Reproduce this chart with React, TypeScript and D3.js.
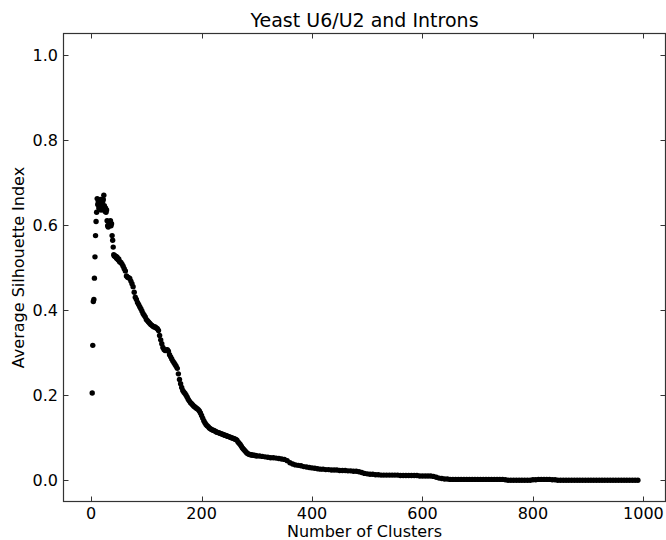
import React from 'react';
import * as d3 from 'd3';

const TITLE = 'Yeast U6/U2 and Introns';
const X_LABEL = 'Number of Clusters';
const Y_LABEL = 'Average Silhouette Index';

const xTicks = [0, 200, 400, 600, 800, 1000];
const yTicks = [0.0, 0.2, 0.4, 0.6, 0.8, 1.0];

// clusters 2..52 (one point per cluster count)
const clustersEarly = d3.range(2, 53, 1);
const silhouetteEarly = [
  0.205, 0.317, 0.420, 0.425, 0.475, 0.525, 0.575, 0.608, 0.630, 0.662,
  0.648, 0.655, 0.640, 0.650, 0.645, 0.660, 0.635, 0.650, 0.642, 0.655,
  0.660, 0.670, 0.645, 0.632, 0.640, 0.630, 0.635, 0.610, 0.598, 0.595,
  0.600, 0.602, 0.605, 0.610, 0.598, 0.603, 0.575, 0.564, 0.548, 0.530,
  0.527, 0.528, 0.525, 0.526, 0.522, 0.524, 0.520, 0.518, 0.520, 0.515, 0.513,
];

// clusters 54..300
const clustersMid = d3.range(54, 301, 2);
const silhouetteMid = [
  0.512, 0.508, 0.503, 0.497, 0.492, 0.480, 0.477, 0.476, 0.474, 0.468,
  0.462, 0.455, 0.442, 0.430, 0.425, 0.418, 0.413, 0.408, 0.403, 0.398,
  0.392, 0.388, 0.384, 0.378, 0.375, 0.372, 0.369, 0.366, 0.364, 0.362,
  0.360, 0.360, 0.358, 0.356, 0.352, 0.340, 0.330, 0.321, 0.312, 0.307,
  0.305, 0.306, 0.307, 0.303, 0.295, 0.290, 0.285, 0.280, 0.276, 0.272,
  0.268, 0.263, 0.250, 0.237, 0.227, 0.218, 0.211, 0.207, 0.204, 0.200,
  0.195, 0.190, 0.186, 0.182, 0.180, 0.177, 0.174, 0.172, 0.170, 0.168,
  0.166, 0.163, 0.158, 0.152, 0.146, 0.140, 0.135, 0.131, 0.128, 0.126,
  0.123, 0.121, 0.119, 0.118, 0.117, 0.116, 0.114, 0.113, 0.112, 0.111,
  0.110, 0.109, 0.108, 0.107, 0.106, 0.105, 0.104, 0.103, 0.102, 0.101,
  0.100, 0.099, 0.098, 0.097, 0.096, 0.094, 0.090, 0.087, 0.084, 0.080,
  0.076, 0.073, 0.070, 0.067, 0.064, 0.062, 0.061, 0.060, 0.060, 0.059,
  0.059, 0.058, 0.058, 0.057,
];

// clusters 305..990
const clustersLate = d3.range(305, 991, 5);
const silhouetteLate = [
  0.057, 0.056, 0.055, 0.054, 0.053, 0.053, 0.052, 0.051, 0.050, 0.049,
  0.046, 0.041, 0.038, 0.036, 0.035, 0.034, 0.032, 0.031, 0.030, 0.029,
  0.028, 0.027, 0.026, 0.026, 0.025, 0.025, 0.024, 0.024, 0.024, 0.023,
  0.023, 0.023, 0.022, 0.022, 0.021, 0.021, 0.020, 0.018, 0.016, 0.015,
  0.014, 0.014, 0.013, 0.013, 0.012, 0.012, 0.012, 0.012, 0.012, 0.012,
  0.012, 0.011, 0.011, 0.011, 0.011, 0.011, 0.011, 0.011, 0.010, 0.010,
  0.010, 0.010, 0.010, 0.009, 0.007, 0.005, 0.004, 0.003, 0.003, 0.002,
  0.002, 0.002, 0.002, 0.002, 0.002, 0.002, 0.002, 0.002, 0.002, 0.002,
  0.002, 0.002, 0.002, 0.002, 0.002, 0.002, 0.002, 0.002, 0.002, 0.001,
  0.000, 0.000, 0.000, 0.000, 0.000, 0.000, 0.000, 0.000, 0.000, 0.001,
  0.001, 0.002, 0.002, 0.002, 0.002, 0.002, 0.001, 0.001, 0.000, 0.000,
  0.000, 0.000, 0.000, 0.000, 0.000, 0.000, 0.000, 0.000, 0.000, 0.000,
  0.000, 0.000, 0.000, 0.000, 0.000, 0.000, 0.000, 0.000, 0.000, 0.000,
  0.000, 0.000, 0.000, 0.000, 0.000, 0.000, 0.000, 0.000,
];

const W = 666;
const H = 540;
const L = 63.5, R = 665.5, T = 33.5, B = 501.5;
const FONT = '"DejaVu Sans", sans-serif';
const AXIS = '#333';

export default function App() {
  const x = d3.scaleLinear().domain([-50, 1040]).range([L, R]);
  const y = d3.scaleLinear().domain([-0.05, 1.05]).range([B, T]);

  const pts: [number, number][] = [];
  const add = (cs: number[], vs: number[]) => {
    cs.forEach((c, i) => {
      if (vs[i] !== undefined) pts.push([c, vs[i]]);
    });
  };
  add(clustersEarly, silhouetteEarly);
  add(clustersMid, silhouetteMid);
  add(clustersLate, silhouetteLate);

  const tickLen = 5;

  return (
    <svg
      width={W}
      height={H}
      style={{ position: 'absolute', left: 0, top: 0, background: '#fff' }}
      fontFamily={FONT}
    >
      <rect x={0} y={0} width={W} height={H} fill="#fff" />
      <text x={(L + R) / 2} y={26.5} textAnchor="middle" fontSize={19} fill="#000">
        {TITLE}
      </text>
      {pts.map(([c, v], i) => (
        <circle key={i} cx={x(c)} cy={y(v)} r={2.7} fill="#000" />
      ))}
      <rect x={L} y={T} width={R - L} height={B - T} fill="none" stroke={AXIS} strokeWidth={1.2} />
      {xTicks.map((t) => (
        <g key={'x' + t}>
          <line x1={Math.round(x(t)) + 0.5} x2={Math.round(x(t)) + 0.5} y1={B} y2={B - tickLen} stroke={AXIS} />
          <line x1={Math.round(x(t)) + 0.5} x2={Math.round(x(t)) + 0.5} y1={T} y2={T + tickLen} stroke={AXIS} />
          <text x={x(t)} y={519} textAnchor="middle" fontSize={16} fill="#000">
            {String(t)}
          </text>
        </g>
      ))}
      {yTicks.map((t) => (
        <g key={'y' + t}>
          <line x1={L} x2={L + tickLen} y1={Math.round(y(t)) + 0.5} y2={Math.round(y(t)) + 0.5} stroke={AXIS} />
          <line x1={R} x2={R - tickLen} y1={Math.round(y(t)) + 0.5} y2={Math.round(y(t)) + 0.5} stroke={AXIS} />
          <text x={58} y={y(t)} dy="0.36em" textAnchor="end" fontSize={16} fill="#000">
            {t.toFixed(1)}
          </text>
        </g>
      ))}
      <text x={(L + R) / 2} y={536.5} textAnchor="middle" fontSize={16} fill="#000">
        {X_LABEL}
      </text>
      <text
        transform={`translate(24,${(T + B) / 2}) rotate(-90)`}
        textAnchor="middle"
        fontSize={16}
        fill="#000"
      >
        {Y_LABEL}
      </text>
    </svg>
  );
}
